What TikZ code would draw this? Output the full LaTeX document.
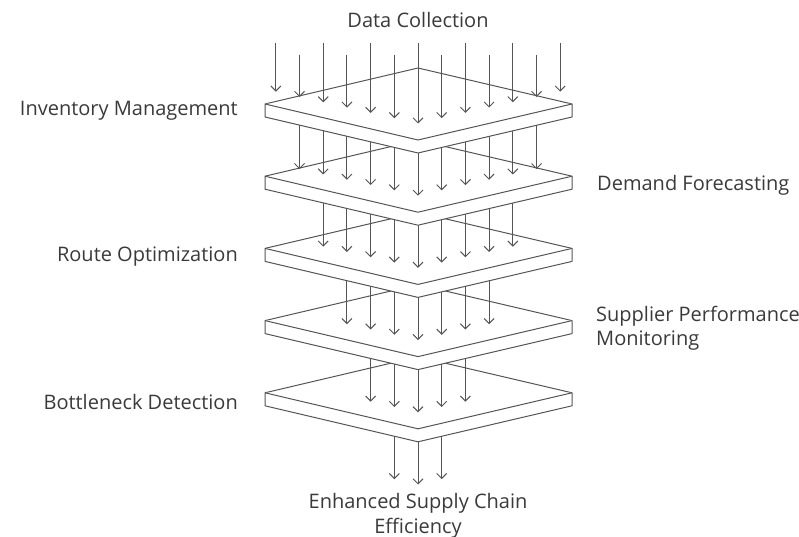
\documentclass[tikz,border=0pt]{standalone}
\usepackage{fontspec}
\setmainfont{Open Sans}
\usepackage{tikz}
\usetikzlibrary{arrows.meta}
\definecolor{inkline}{HTML}{555555}
\definecolor{inktext}{HTML}{3A3A3A}

\begin{document}
\begin{tikzpicture}[x=1pt,y=-1pt,
		every node/.style={font=\fontsize{20}{24.5}\selectfont,text=inktext,inner sep=0pt},
		plate/.style={draw=inkline,fill=white,line width=1pt,line join=round},
		flow/.style={draw=inkline,line width=1pt,-{Straight Barb[length=5pt,width=10pt]}},
		lefttag/.style={anchor=east},
		righttag/.style={anchor=west,align=left}]
	\useasboundingbox (0,0) rectangle (799,537);
	\foreach \k in {6,5,...,1}
	{
		\pgfmathsetmacro\L{104+72.2*(\k-1)}
		\pgfmathtruncatemacro\n{7-\k}
		\ifnum\k<6
			\filldraw[plate] (265,\L) -- (418,\L-36) -- (572,\L) -- (572,\L+13)
				-- (418,\L+49) -- (265,\L+13) -- cycle;
			\draw[plate] (265,\L) -- (418,\L+36) -- (572,\L);
		\fi
		\foreach \j in {-\n,...,\n}
		{
			\pgfmathsetmacro\x{418+23.7*\j}
			\pgfmathsetmacro\t{\L+19.5-5.3*abs(\j)}
			\ifnum\k=1
				\pgfmathsetmacro\s{mod(abs(\j),2)==1 ? 55 : 43}
			\else
				\pgfmathsetmacro\s{\L-66.2}
			\fi
			\draw[flow] (\x,\s) -- (\x,\t);
		}
	}
	\node (collect) at (418,20) {Data Collection};
	\node[lefttag] (inventory) at (238,111) {Inventory Management};
	\node[righttag] (demand) at (597,185) {Demand Forecasting};
	\node[righttag] (supplier) at (596,328) {Supplier Performance\\Monitoring};
	\node[lefttag] (route) at (238,257) {Route Optimization};
	\node[lefttag] (bottleneck) at (238,402) {Bottleneck Detection};
	\node[align=center] (result) at (418,516) {Enhanced Supply Chain\\Efficiency};
\end{tikzpicture}
\end{document}
